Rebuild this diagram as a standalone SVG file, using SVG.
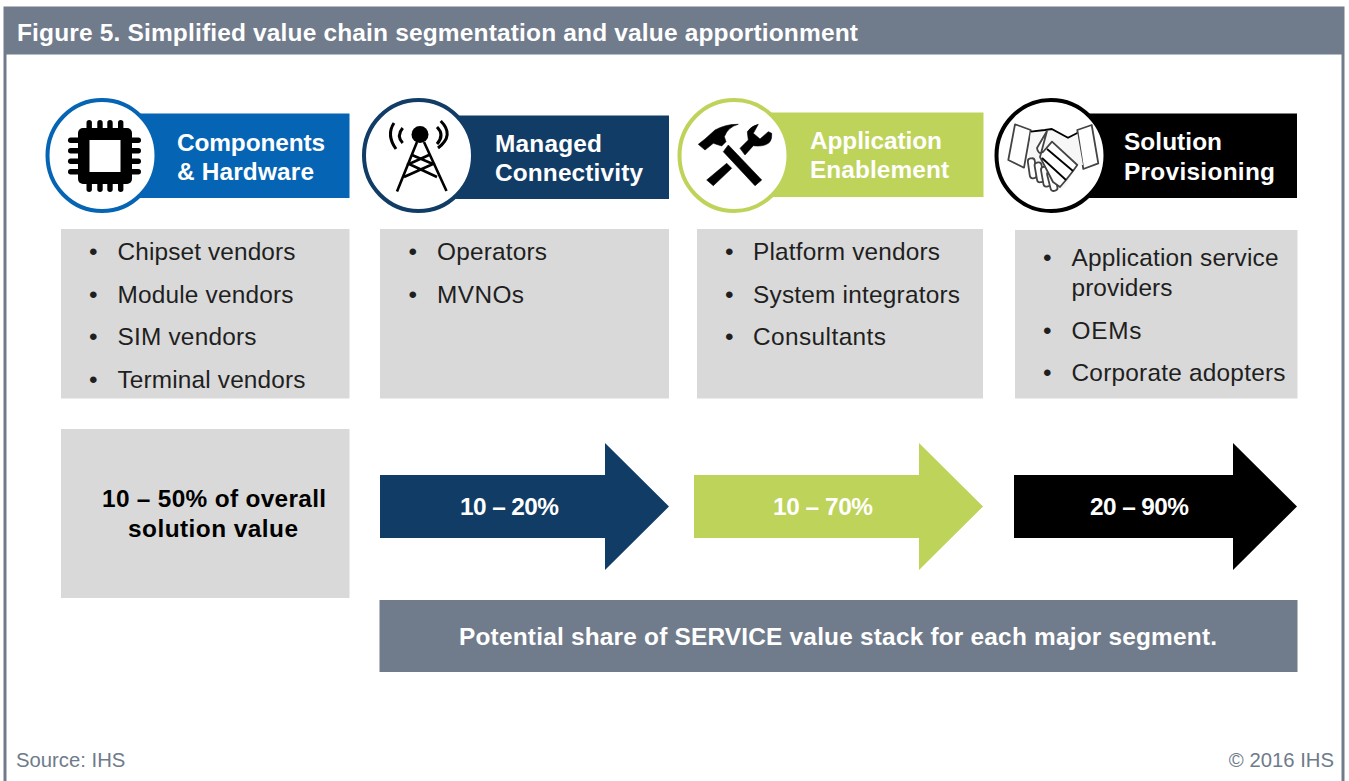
<svg xmlns="http://www.w3.org/2000/svg" width="1349" height="781" viewBox="0 0 1349 781">
<style>
text{font-family:"Liberation Sans",Arial,sans-serif}
.h{font-size:24.4px;font-weight:700;fill:#fff}
.l{font-size:24.4px;fill:#1f1f1f}
.p{font-size:24.4px;font-weight:700}
.g{fill:#d9d9d9}
.c{fill:#fff;stroke-width:4}
.ln{fill:none;stroke:#000}
.hs{fill:#fff;stroke:#444;stroke-width:1.8;stroke-linejoin:round}
.s{font-size:20.3px;fill:#6f7b8b}
</style>
<rect width="1349" height="781" fill="#fff"/>
<g id="frame">
<rect x="5" y="8" width="1338" height="790" fill="#fff" stroke="#707b8b" stroke-width="3"/>
<rect x="4" y="7" width="1340" height="47.500" fill="#707b8b"/>
<text x="17" y="41" font-size="24.5" font-weight="700" fill="#fff" textLength="841" lengthAdjust="spacing">Figure 5. Simplified value chain segmentation and value apportionment</text>
</g>
<g id="components">
<rect x="102" y="113.5" width="247.500" height="84.500" fill="#0564b3"/>
<ellipse class="c" cx="102" cy="155.500" rx="54.500" ry="55.500" stroke="#0564b3"/>
<g fill="#000">
<rect x="78" y="128" width="54" height="56" rx="5"/>
<rect x="86.500" y="120" width="5.400" height="72" rx="2.700"/><rect x="97.300" y="120" width="5.400" height="72" rx="2.700"/><rect x="107.300" y="120" width="5.400" height="72" rx="2.700"/><rect x="118" y="120" width="5.400" height="72" rx="2.700"/>
<rect x="68" y="137.500" width="73" height="5.400" rx="2.700"/><rect x="68" y="148" width="73" height="5.400" rx="2.700"/><rect x="68" y="158.500" width="73" height="5.400" rx="2.700"/><rect x="68" y="169" width="73" height="5.400" rx="2.700"/>
</g>
<rect x="89.500" y="140" width="31" height="32" fill="#fff"/>
<text class="h" x="177" y="151" textLength="148">Components</text>
<text class="h" x="177" y="180" textLength="137">&amp; Hardware</text>
</g>
<g id="connectivity">
<rect x="418" y="115.500" width="251" height="83.500" fill="#113c66"/>
<ellipse class="c" cx="418.500" cy="155.500" rx="54.500" ry="55.500" stroke="#113c66"/>
<circle cx="420" cy="134.500" r="8.500" fill="#000"/>
<path class="ln" stroke-width="3" d="M394 123Q386 135 396 149M402.700 128Q396 136 402.700 143M440.700 121Q455 135 438 148M437 127Q445 135 437 144"/>
<path class="ln" stroke-width="2.600" d="M417 142L397 191.500M424 142L446.500 191M412 155L433 164L404 177M429 155L409 164L437 177"/>
<text class="h" x="495" y="151.500" textLength="107">Managed</text>
<text class="h" x="495" y="181" textLength="148">Connectivity</text>
</g>
<g id="application">
<rect x="734" y="112.500" width="249.500" height="84.500" fill="#bed35a"/>
<ellipse class="c" cx="734" cy="155.500" rx="54.500" ry="55.500" stroke="#bed35a"/>
<g fill="#000" stroke="#000" stroke-width=".6" stroke-linejoin="round">
<path d="M698.300 144.300L705 139L715 130Q726 124 738.300 124.300Q728 127 724.300 136.700L726 141.700L721.700 146L713.300 143.300L705 150Z"/>
<path d="M728.300 145L761.700 180L755 185.700L723.300 151.700Z"/>
<path d="M726.700 163.300L731.700 168.300L713.300 185.700L706.700 180Z"/>
<path d="M740 148.300L748.300 140L747.300 131.700Q751 126 758.300 124.300L753.300 133.300L760 139L768.300 131.700L771.700 133.300Q772 141 768.300 143.300Q763 147 753.300 145.700L745 155Z"/>
</g>
<text class="h" x="810" y="149" textLength="132">Application</text>
<text class="h" x="810" y="178" textLength="139">Enablement</text>
</g>
<g id="solution">
<rect x="1051" y="113.500" width="246" height="84.500" fill="#000"/>
<ellipse class="c" cx="1051" cy="155.500" rx="54.500" ry="55.500" stroke="#000"/>
<path class="hs" d="M1015 124.300L1030.700 130L1024 167.700L1008.300 160ZM1077.300 130L1091.700 125L1098.300 163.300L1083.300 169Z"/>
<path d="M1030.700 131.700L1045 130L1051.700 129L1068 137.700L1077.300 133L1083 165L1077 165L1065 187L1058 190L1028 166Z" fill="#f7f7f7"/>
<path class="ln" stroke="#444" stroke-width="1.800" d="M1030.700 131.700L1045 130L1051.700 129L1068 137.700L1077.300 133"/>
<rect class="hs" x="1028.800" y="158.300" width="7" height="20" rx="3" transform="rotate(-8 1032.300 168.300)"/>
<rect class="hs" x="1035.800" y="162.300" width="7" height="20" rx="3" transform="rotate(-10 1039.300 172.300)"/>
<rect class="hs" x="1042.200" y="166.700" width="7" height="20" rx="3" transform="rotate(-10 1045.700 176.700)"/>
<rect class="hs" x="1048.800" y="171" width="7" height="20" rx="3" transform="rotate(-14 1052.300 181)"/>
<path class="hs" d="M1047 131L1037 148Q1038 155 1043 152L1052 141.700L1077.300 165L1073 171L1066 180L1060 187L1053 182L1040 157Z" fill="#fbfbfb"/>
<path class="ln" stroke="#444" stroke-width="1.800" d="M1073 171L1047 149M1066 180L1042 158"/>
<text class="h" x="1124" y="150" textLength="98">Solution</text>
<text class="h" x="1124" y="180" textLength="151">Provisioning</text>
</g>
<g id="list1">
<rect class="g" x="61" y="229" width="288.500" height="169.500"/>
<text class="l" x="89" y="260">•</text><text class="l" x="117.500" y="260" textLength="178">Chipset vendors</text>
<text class="l" x="89" y="302.500">•</text><text class="l" x="117.500" y="302.500" textLength="176">Module vendors</text>
<text class="l" x="89" y="345">•</text><text class="l" x="117.500" y="345" textLength="139">SIM vendors</text>
<text class="l" x="89" y="387.500">•</text><text class="l" x="117.500" y="387.500" textLength="188">Terminal vendors</text>
</g>
<g id="list2">
<rect class="g" x="380" y="229" width="289" height="169.500"/>
<text class="l" x="408.500" y="260">•</text><text class="l" x="437" y="260" textLength="110">Operators</text>
<text class="l" x="408.500" y="302.500">•</text><text class="l" x="437" y="302.500" textLength="87">MVNOs</text>
</g>
<g id="list3">
<rect class="g" x="697" y="229" width="286" height="169.500"/>
<text class="l" x="725" y="260">•</text><text class="l" x="753" y="260" textLength="187">Platform vendors</text>
<text class="l" x="725" y="302.500">•</text><text class="l" x="753" y="302.500" textLength="207">System integrators</text>
<text class="l" x="725" y="345">•</text><text class="l" x="753" y="345" textLength="133">Consultants</text>
</g>
<g id="list4">
<rect class="g" x="1015" y="230" width="282.500" height="168.500"/>
<text class="l" x="1043" y="266">•</text><text class="l" x="1071.500" y="266" textLength="207">Application service</text>
<text class="l" x="1071.500" y="296" textLength="101">providers</text>
<text class="l" x="1043" y="338.500">•</text><text class="l" x="1071.500" y="338.500" textLength="70">OEMs</text>
<text class="l" x="1043" y="380.500">•</text><text class="l" x="1071.500" y="380.500" textLength="214">Corporate adopters</text>
</g>
<g id="share1">
<rect class="g" x="61" y="429" width="288.500" height="169"/>
<text class="p" x="102" y="507" fill="#000" textLength="224">10 – 50% of overall</text>
<text class="p" x="128" y="537" fill="#000" textLength="170">solution value</text>
</g>
<g id="connectors">
<path id="arrow1" d="M380 475H605V443L669 506.500L605 570V538H380Z" fill="#113c66"/>
<path id="arrow2" d="M694 475H919V443L983 506.500L919 570V538H694Z" fill="#bed35a"/>
<path id="arrow3" d="M1014 475H1233V443L1297 506.500L1233 570V538H1014Z" fill="#000"/>
</g>
<g id="labels">
<text class="p" x="460" y="515" fill="#fff" textLength="99">10 – 20%</text>
<text class="p" x="773" y="515" fill="#fff" textLength="100">10 – 70%</text>
<text class="p" x="1090" y="515" fill="#fff" textLength="99">20 – 90%</text>
</g>
<g id="banner">
<rect x="379.500" y="600" width="918" height="72" fill="#707b8b"/>
<text class="p" x="459" y="645" fill="#fff" textLength="758">Potential share of SERVICE value stack for each major segment.</text>
</g>
<g id="footer">
<text class="s" x="16" y="767">Source: IHS</text>
<text class="s" x="1334" y="767" text-anchor="end">© 2016 IHS</text>
</g>
</svg>
